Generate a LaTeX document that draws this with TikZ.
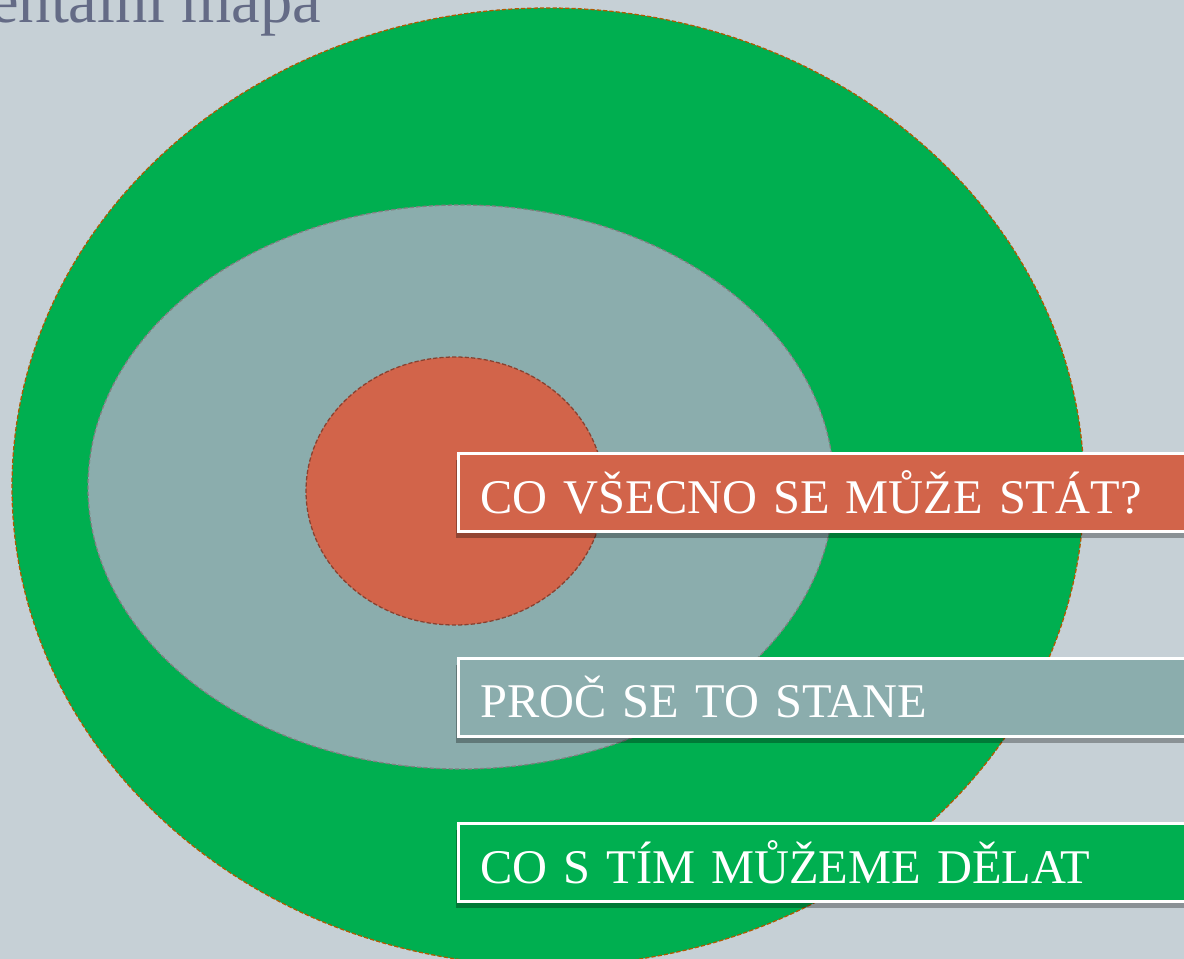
\documentclass[tikz,border=0pt]{standalone}
\usepackage{fontspec}
\setmainfont{Liberation Serif}
\usetikzlibrary{shadows}
\definecolor{bgcol}{RGB}{198,208,214}
\definecolor{greenfill}{RGB}{0,175,80}
\definecolor{tealfill}{RGB}{139,173,173}
\definecolor{redfill}{RGB}{210,100,74}
\definecolor{titlecol}{RGB}{100,107,134}
\tikzstyle{ring}=[draw,dash pattern=on 3pt off 1.5pt,line width=0.9pt]
\tikzstyle{labelbox}=[draw=white,line width=2pt,anchor=north west,minimum width=18.6cm,minimum height=1.95cm,text width=17.5cm,inner xsep=0.52cm,align=left,text=white,font=\fontsize{34.4}{38}\selectfont,drop shadow={shadow xshift=-0.05cm,shadow yshift=-0.16cm,fill=black,opacity=0.3}]

\begin{document}
\begin{tikzpicture}[x=0.025cm,y=-0.025cm]

  \useasboundingbox[fill=bgcol] (0,0) rectangle (1184,959);

  \node[anchor=base west,text=titlecol,font=\fontsize{45.8}{50}\selectfont,inner sep=0pt] (title) at (-10,23) {entální mapa};

  % rings
  \draw[ring,fill=greenfill,draw=orange!70!black] (548,487) ellipse [x radius=536,y radius=479];
  \draw[ring,fill=tealfill,draw=black!50] (461,487) ellipse [x radius=373,y radius=282];
  \draw[ring,fill=redfill,draw=redfill!65!black] (455,491) ellipse [x radius=149,y radius=134];

  \foreach \y/\name/\col/\txt in {452/whatbox/redfill/{CO VŠECNO SE MŮŽE STÁT?}, 657/whybox/tealfill/{PROČ SE TO STANE}, 822/dobox/greenfill/{CO S TÍM MŮŽEME DĚLAT}}
          \node[labelbox,fill=\col] (\name) at (457,\y) {\txt};

\end{tikzpicture}
\end{document}
